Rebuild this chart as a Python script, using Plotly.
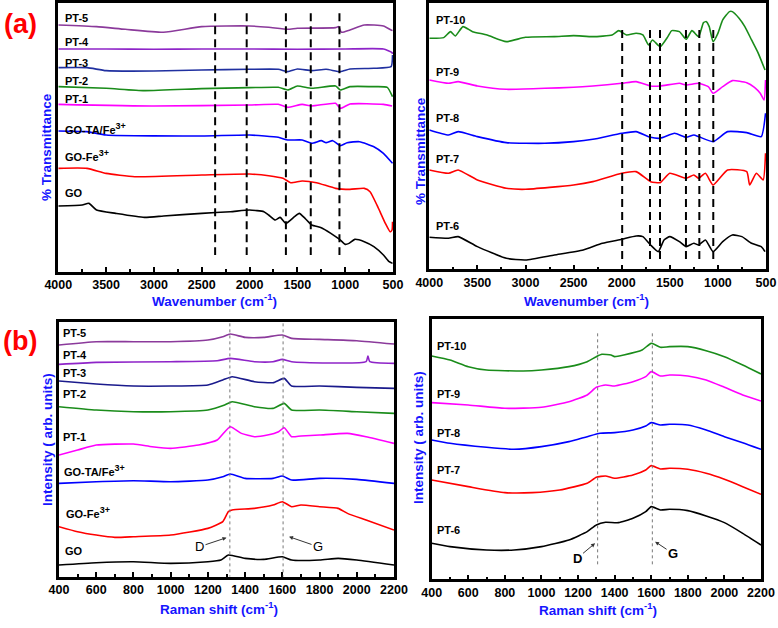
import plotly.graph_objects as go

SUP = "<sup><span style='font-size:9px'>3+</span></sup>"

# ---------------- Panel (a) left : FTIR ----------------
ftir_L_names = ["PT-5", "PT-4", "PT-3", "PT-2", "PT-1", "GO-TA/Fe" + SUP, "GO-Fe" + SUP, "GO"]
ftir_L_colors = ["#8B3A9B", "#8E24C8", "#2030A0", "#1A8C1A", "#FF00FF", "#0000FF", "#FF0000", "#000000"]
ftir_L_x = [
    [4000, 3600, 3300, 2900, 2500, 2000, 1800, 1600, 1500, 1100, 1070, 1040, 950, 800, 600, 520, 505],
    [4000, 3500, 3000, 2500, 2000, 1500, 1000, 600, 510, 505],
    [4000, 3700, 3500, 3000, 2500, 2000, 1700, 1600, 1500, 1350, 1200, 1050, 950, 700, 520, 505],
    [4000, 3500, 3100, 2500, 2000, 1700, 1600, 1500, 1350, 1100, 1050, 950, 700, 560, 505],
    [4000, 3000, 2000, 1700, 1600, 1450, 1350, 1100, 1050, 950, 600, 510],
    [4000, 3700, 3500, 2500, 2000, 1700, 1600, 1450, 1350, 1250, 1200, 1130, 1050, 980, 850, 700, 600, 505],
    [4000, 3700, 3500, 3200, 2500, 2000, 1800, 1650, 1570, 1450, 1300, 1100, 950, 800, 740, 660, 580, 530, 510, 505],
    [4000, 3750, 3680, 3600, 3400, 3100, 2900, 2500, 2200, 2000, 1850, 1800, 1730, 1680, 1620, 1530, 1480, 1420,
     1350, 1250, 1150, 1050, 1000, 960, 900, 800, 700, 600, 540, 505],
]
ftir_L_y = [
    [75, 80, 88, 97, 80, 78, 82, 88, 85, 83, 80, 97, 90, 75, 78, 90, 92],
    [147, 147, 148, 147, 147, 148, 147, 147, 158, 162],
    [203, 203, 212, 213, 210, 208, 208, 215, 207, 212, 208, 215, 207, 205, 200, 165],
    [260, 265, 272, 266, 263, 262, 270, 258, 265, 258, 270, 260, 260, 262, 290],
    [313, 318, 315, 313, 322, 313, 318, 310, 325, 312, 313, 318],
    [393, 395, 405, 408, 405, 412, 420, 420, 430, 422, 428, 422, 437, 428, 425, 440, 460, 490],
    [505, 505, 520, 530, 525, 522, 527, 535, 548, 543, 548, 565, 568, 565, 575, 620, 670, 695, 690, 665],
    [618, 615, 610, 630, 640, 652, 648, 640, 635, 630, 635, 645, 660, 652, 670, 650, 640, 655,
     675, 683, 700, 720, 733, 730, 718, 725, 740, 765, 785, 790],
]
ftir_L_label_y = [55, 125, 188, 243, 297, 385, 467, 580]
ftir_L_peaks = [2360, 2030, 1620, 1360, 1060]

# ---------------- Panel (a) right : FTIR ----------------
ftir_R_names = ["PT-10", "PT-9", "PT-8", "PT-7", "PT-6"]
ftir_R_colors = ["#1A8C1A", "#FF00FF", "#0000FF", "#FF0000", "#000000"]
ftir_R_x = [
    [4000, 3850, 3780, 3730, 3650, 3550, 3400, 3200, 3000, 2700, 2500, 2300, 2100, 2030, 1950, 1850, 1780, 1720,
     1680, 1600, 1520, 1480, 1400, 1330, 1270, 1200, 1150, 1120, 1090, 1050, 1000, 950, 880, 850, 780, 720, 650, 580, 510],
    [4000, 3800, 3700, 3500, 3200, 2800, 2500, 2300, 2000, 1850, 1700, 1600, 1400, 1330, 1200, 1100, 1050, 950,
     850, 700, 620, 560, 520, 505],
    [4000, 3800, 3700, 3500, 3200, 2800, 2500, 2300, 2000, 1850, 1700, 1600, 1450, 1330, 1250, 1200, 1050, 900,
     700, 550, 505],
    [4000, 3800, 3700, 3500, 3200, 3000, 2500, 2300, 2000, 1850, 1700, 1600, 1500, 1330, 1250, 1200, 1130, 1050,
     900, 700, 670, 600, 530, 505],
    [4000, 3800, 3700, 3500, 3200, 3000, 2700, 2400, 2200, 2000, 1850, 1780, 1700, 1620, 1560, 1500, 1400, 1330,
     1250, 1200, 1130, 1050, 950, 850, 750, 650, 550, 510],
]
ftir_R_y = [
    [115, 113, 95, 108, 80, 95, 105, 125, 112, 110, 107, 110, 105, 92, 105, 100, 105, 135,
     120, 140, 110, 92, 95, 118, 92, 110, 68, 65, 80, 125, 100, 60, 35, 35, 55, 80, 120, 160, 210],
    [240, 250, 245, 258, 268, 265, 262, 258, 250, 245, 258, 258, 250, 255, 250, 260, 280, 260,
     242, 248, 262, 280, 300, 240],
    [390, 405, 395, 410, 428, 430, 425, 418, 400, 395, 412, 415, 400, 412, 405, 410, 425, 395,
     398, 410, 340],
    [510, 520, 510, 540, 565, 568, 555, 545, 520, 515, 545, 548, 520, 535, 525, 535, 520, 555,
     510, 515, 555, 520, 540, 460],
    [712, 715, 710, 740, 775, 780, 765, 750, 730, 718, 708, 710, 735, 755, 720, 710, 725, 740,
     730, 735, 720, 755, 725, 705, 710, 730, 740, 755],
]
ftir_R_label_y = [60, 215, 355, 478, 678]
ftir_R_peaks = [1995, 1706, 1602, 1332, 1193, 1048]

# ---------------- Panel (b) left : Raman ----------------
ram_L_names = ["PT-5", "PT-4", "PT-3", "PT-2", "PT-1", "GO-TA/Fe" + SUP, "GO-Fe" + SUP, "GO"]
ram_L_colors = ["#8B3A9B", "#8E24C8", "#1A1A8C", "#1A8C1A", "#FF00FF", "#0000FF", "#FF0000", "#000000"]
ram_L_x = [
    [400, 600, 800, 1000, 1200, 1280, 1320, 1400, 1500, 1600, 1650, 1800, 2000, 2200],
    [400, 600, 1000, 1250, 1320, 1450, 1550, 1600, 1650, 2050, 2060, 2070, 2200],
    [400, 600, 800, 1000, 1200, 1280, 1330, 1450, 1550, 1610, 1650, 1800, 2000, 2200],
    [400, 600, 800, 1000, 1200, 1290, 1330, 1450, 1550, 1610, 1650, 1800, 2000, 2200],
    [400, 500, 600, 800, 900, 1000, 1150, 1250, 1320, 1380, 1450, 1520, 1580, 1610, 1650, 1700, 1800, 1950, 2050, 2200],
    [400, 600, 800, 1000, 1200, 1280, 1320, 1400, 1550, 1600, 1650, 1800, 2000, 2200],
    [400, 500, 600, 700, 800, 1000, 1200, 1280, 1310, 1330, 1450, 1550, 1600, 1650, 1700, 1800, 1900, 1950, 2050, 2200],
    [400, 600, 800, 1000, 1200, 1270, 1310, 1400, 1500, 1600, 1650, 1800, 1900, 2000, 2200],
]
ram_L_y = [
    [135, 125, 125, 125, 120, 110, 102, 112, 112, 105, 115, 118, 122, 132],
    [193, 187, 185, 182, 175, 185, 185, 178, 185, 185, 168, 185, 190],
    [243, 252, 258, 258, 255, 240, 230, 245, 248, 235, 258, 258, 262, 265],
    [320, 330, 335, 335, 330, 315, 305, 320, 325, 310, 330, 330, 335, 340],
    [465, 450, 435, 432, 440, 445, 435, 420, 380, 400, 410, 405, 395, 383, 410, 408, 405, 400, 410, 430],
    [550, 545, 542, 545, 540, 530, 522, 535, 535, 528, 540, 535, 538, 550],
    [680, 695, 705, 712, 710, 705, 685, 665, 635, 630, 625, 615, 605, 620, 615, 620, 625, 640, 660, 690],
    [795, 788, 785, 790, 785, 780, 765, 775, 778, 770, 780, 780, 775, 780, 795],
]
ram_L_label = [(411, 100), (411, 165), (411, 218), (411, 282), (411, 410), (418, 512), (429, 637), (423, 752)]

# ---------------- Panel (b) right : Raman ----------------
ram_R_names = ["PT-10", "PT-9", "PT-8", "PT-7", "PT-6"]
ram_R_colors = ["#1A8C1A", "#FF00FF", "#0000FF", "#FF0000", "#000000"]
ram_R_x = [
    [400, 500, 600, 700, 900, 1000, 1150, 1250, 1300, 1330, 1380, 1400, 1450, 1550, 1600, 1650, 1700, 1800, 1900, 2000, 2100, 2200],
    [400, 600, 800, 1000, 1150, 1250, 1300, 1350, 1400, 1500, 1570, 1600, 1650, 1700, 1800, 1900, 2000, 2100, 2200],
    [400, 500, 700, 850, 1000, 1150, 1250, 1320, 1400, 1500, 1570, 1600, 1650, 1700, 1800, 1900, 2000, 2100, 2200],
    [400, 600, 800, 950, 1100, 1250, 1300, 1350, 1400, 1500, 1570, 1600, 1650, 1700, 1800, 1900, 2000, 2100, 2200],
    [400, 500, 700, 850, 1000, 1150, 1250, 1300, 1350, 1420, 1500, 1570, 1600, 1650, 1700, 1800, 1900, 2000, 2100, 2200],
]
ram_R_y = [
    [168, 180, 200, 210, 213, 210, 200, 185, 170, 163, 165, 170, 165, 150, 130, 142, 140, 140, 152, 170, 195, 222],
    [308, 315, 325, 322, 305, 285, 262, 255, 258, 245, 230, 215, 228, 225, 228, 240, 262, 285, 303],
    [420, 430, 442, 448, 440, 425, 410, 400, 398, 390, 378, 368, 375, 373, 375, 390, 410, 428, 448],
    [540, 560, 578, 578, 570, 550, 532, 528, 535, 525, 510, 497, 507, 505, 508, 520, 538, 560, 583],
    [730, 740, 750, 750, 740, 720, 695, 675, 667, 668, 655, 635, 620, 630, 628, 632, 648, 668, 700, 735],
]
ram_R_label_y = [138, 283, 398, 510, 690]
raman_bands = [1318, 1604]
raman_bands_R = [1307, 1606]

W, H = 778, 628
def dx(a, b): return [a / W, b / W]
def dy(top, bot): return [1 - bot / H, 1 - top / H]

fig = go.Figure()
BOLD = "Liberation Sans"
LBL = dict(family=BOLD, size=11, color="black", weight="bold")

def add_curves(xs, ys, colors, xa, ya):
    for x, y, c in zip(xs, ys, colors):
        fig.add_trace(go.Scatter(x=x, y=y, mode="lines", xaxis=xa, yaxis=ya,
                                 line=dict(color=c, width=1.6, shape="spline", smoothing=0.5),
                                 showlegend=False, hoverinfo="skip"))

add_curves(ftir_L_x, ftir_L_y, ftir_L_colors, "x", "y")
add_curves(ftir_R_x, ftir_R_y, ftir_R_colors, "x2", "y2")
add_curves(ram_L_x, ram_L_y, ram_L_colors, "x3", "y3")
add_curves(ram_R_x, ram_R_y, ram_R_colors, "x4", "y4")

shapes = []
for p in ftir_L_peaks:
    shapes.append(dict(type="line", xref="x", yref="y", x0=p, x1=p, y0=40, y1=765,
                       line=dict(color="black", width=2, dash="8px,5px")))
for p in ftir_R_peaks:
    shapes.append(dict(type="line", xref="x2", yref="y2", x0=p, x1=p, y0=90, y1=790,
                       line=dict(color="black", width=2, dash="8px,5px")))
for p in raman_bands:
    shapes.append(dict(type="line", xref="x3", yref="y3", x0=p, x1=p, y0=70, y1=830,
                       line=dict(color="#777777", width=1, dash="dot")))
for p in raman_bands_R:
    shapes.append(dict(type="line", xref="x4", yref="y4", x0=p, x1=p, y0=100, y1=800,
                       line=dict(color="#777777", width=1, dash="dot")))

ann = []
for n, yv in zip(ftir_L_names, ftir_L_label_y):
    ann.append(dict(x=3955, y=yv, xref="x", yref="y", text=n, showarrow=False, xanchor="left", font=LBL))
for n, yv in zip(ftir_R_names, ftir_R_label_y):
    ann.append(dict(x=3951, y=yv, xref="x2", yref="y2", text=n, showarrow=False, xanchor="left", font=LBL))
for n, (xv, yv) in zip(ram_L_names, ram_L_label):
    ann.append(dict(x=xv, y=yv, xref="x3", yref="y3", text=n, showarrow=False, xanchor="left", font=LBL))
for n, yv in zip(ram_R_names, ram_R_label_y):
    ann.append(dict(x=418, y=yv, xref="x4", yref="y4", text=n, showarrow=False, xanchor="left", font=LBL))

# D / G arrows (text sits at the arrow tail)
DG = dict(family="Liberation Sans", size=13, color="black")
DGb = dict(family="Liberation Sans", size=13, color="black", weight="bold")
ARW = dict(showarrow=True, arrowhead=2, arrowsize=0.8, arrowwidth=1, arrowcolor="#333")
ann += [
    dict(x=1300, y=713, xref="x3", yref="y3", ax=-27, ay=9, text="D", font=DG, **ARW),
    dict(x=1636, y=710, xref="x3", yref="y3", ax=29, ay=10, text="G", font=DG, **ARW),
    dict(x=1293, y=730, xref="x4", yref="y4", ax=-18, ay=15, text="D", font=DGb, **ARW),
    dict(x=1621, y=725, xref="x4", yref="y4", ax=18, ay=12, text="G", font=DGb, **ARW),
]

TITLE = dict(family=BOLD, size=13.5, color="#1515FF", weight="bold")
def pa(x, y, text, rot=0, font=TITLE):
    ann.append(dict(x=x / W, y=1 - y / H, xref="paper", yref="paper", text=text, showarrow=False,
                    textangle=rot, font=font, xanchor="center", yanchor="middle"))

pa(214, 300, "Wavenumber (cm<sup>-1</sup>)")
pa(586, 300, "Wavenumber (cm<sup>-1</sup>)")
pa(219, 608, "Raman shift (cm<sup>-1</sup>)")
pa(598, 609, "Raman shift (cm<sup>-1</sup>)")
pa(46, 147, "% Transmittance", -90)
pa(420, 151, "% Transmittance", -90)
pa(47, 440, "Intensity ( arb. units)", -90)
pa(418, 438, "Intensity ( arb. units)", -90)
PANEL = dict(family=BOLD, size=27, color="#FF0000", weight="bold")
pa(20, 24, "(a)", 0, PANEL)
pa(20, 341, "(b)", 0, PANEL)

def xax(dom, rng, dt, mdt, anchor):
    return dict(domain=dom, range=rng, dtick=dt, tick0=0, anchor=anchor, showgrid=False, zeroline=False,
                showline=True, linewidth=2.5, linecolor="black", mirror=True, automargin=False,
                ticks="inside", ticklen=5, tickwidth=2, tickcolor="black",
                minor=dict(dtick=mdt, ticks="inside", ticklen=3, tickwidth=2, tickcolor="black"),
                tickfont=dict(family=BOLD, size=12.5, color="black", weight="bold"))

def yax(dom, rng, anchor):
    return dict(domain=dom, range=rng, anchor=anchor, showgrid=False, zeroline=False, automargin=False,
                showline=True, linewidth=2.5, linecolor="black", mirror=True,
                showticklabels=False, ticks="")

fig.update_layout(
    width=W, height=H, margin=dict(l=0, r=0, t=0, b=0, pad=0, autoexpand=False),
    paper_bgcolor="white", plot_bgcolor="white",
    xaxis=xax(dx(58.3, 393), [4000, 500], 500, 250, "y"),
    yaxis=yax(dy(3.3, 271.7), [815, 10], "x"),
    xaxis2=xax(dx(429.3, 766), [4000, 500], 500, 250, "y2"),
    yaxis2=yax(dy(3.3, 269.3), [808, 10], "x2"),
    xaxis3=xax(dx(59, 394), [400, 2200], 200, 100, "y3"),
    yaxis3=yax(dy(321.7, 576.7), [830, 65], "x3"),
    xaxis4=xax(dx(431.7, 761), [400, 2200], 200, 100, "y4"),
    yaxis4=yax(dy(319, 579.3), [838, 57], "x4"),
    shapes=shapes, annotations=ann,
)

fig.write_html("out.html")
